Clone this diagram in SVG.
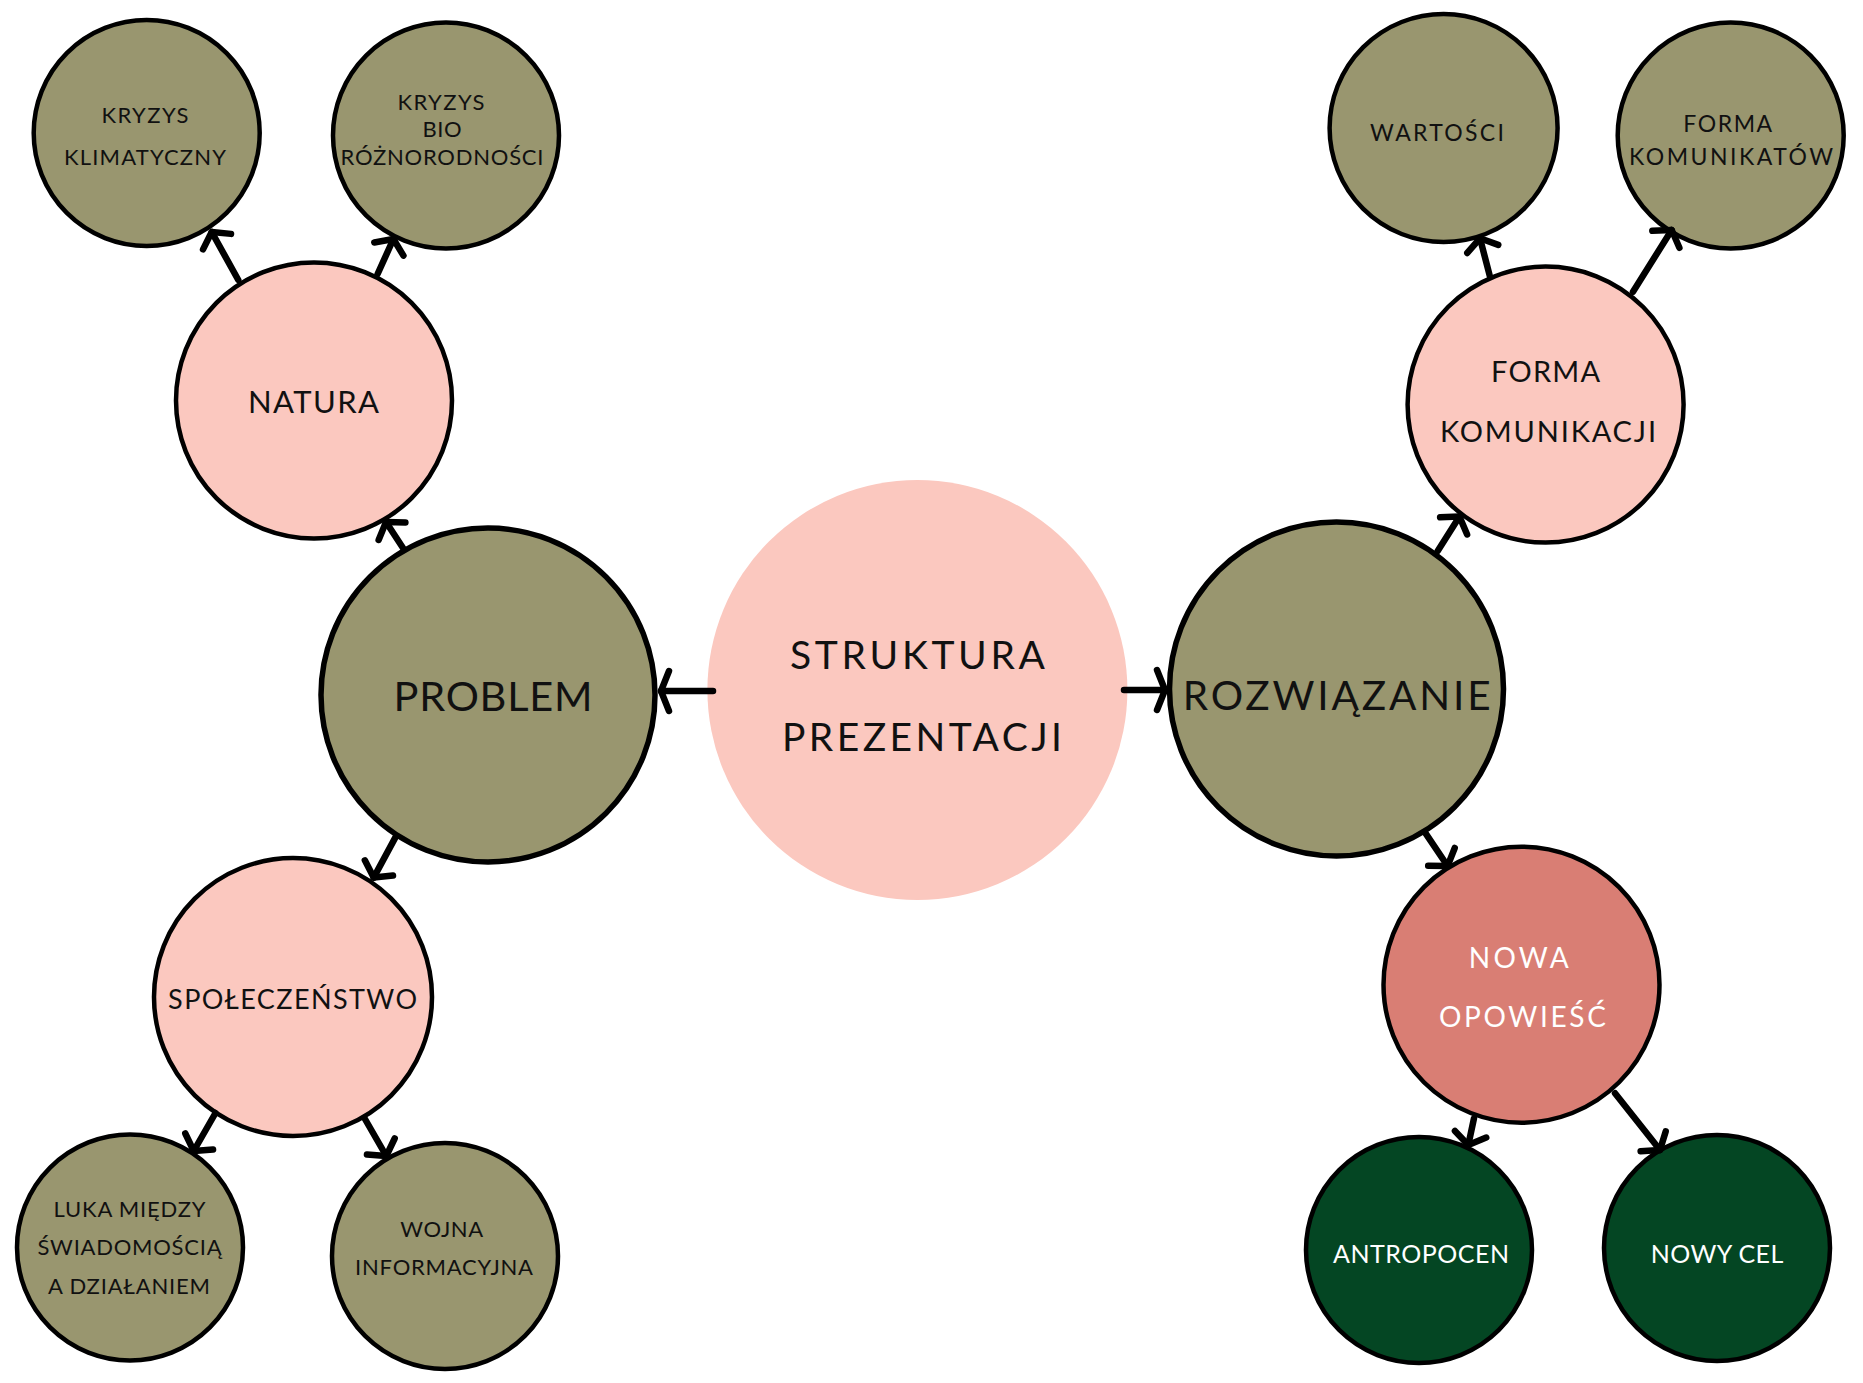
<svg xmlns="http://www.w3.org/2000/svg" width="1863" height="1383" viewBox="0 0 1863 1383">
<style>
.n{stroke:#000;stroke-width:4.5}
.big{stroke:#000;stroke-width:5.5}
.olive{fill:#99966F}
.pink{fill:#FBC8BF}
.coral{fill:#D97E74}
.dark{fill:#044623}
text{font-family:Lato,"Open Sans","Liberation Sans",sans-serif;text-anchor:middle;fill:#111}
.w{fill:#fff}
.s{font-size:22px}
.m{font-size:29px}
.l{font-size:40px}
.e{stroke:#000;stroke-width:6.5;stroke-linecap:round;fill:none;marker-end:url(#ah)}
.e2{stroke:#000;stroke-width:6.5;stroke-linecap:round;fill:none;marker-end:url(#ah2)}
</style>
<defs>
<marker id="ah" markerUnits="userSpaceOnUse" markerWidth="40" markerHeight="40" viewBox="-20 -20 40 40" refX="0" refY="0" orient="auto" overflow="visible"><path d="M-11,-16 L0,0 L-11,16" fill="none" stroke="#000" stroke-width="6.5" stroke-linecap="round" stroke-linejoin="round"/></marker>
<marker id="ah2" markerUnits="userSpaceOnUse" markerWidth="40" markerHeight="50" viewBox="-20 -25 40 50" refX="0" refY="0" orient="auto" overflow="visible"><path d="M-8,-20 L0,0 L-8,20" fill="none" stroke="#000" stroke-width="6.5" stroke-linecap="round" stroke-linejoin="round"/></marker>
</defs>
<rect width="1863" height="1383" fill="#fff"/>

<g id="kryzys-klimatyczny"><circle class="n olive" cx="146.7" cy="133" r="113"/><text class="s" x="145" y="122.5" textLength="87" lengthAdjust="spacing">KRYZYS</text><text class="s" x="145" y="165" textLength="162" lengthAdjust="spacing">KLIMATYCZNY</text></g>
<g id="kryzys-bio"><circle class="n olive" cx="446" cy="135.5" r="113"/><text class="s" x="441" y="110" textLength="87" lengthAdjust="spacing">KRYZYS</text><text class="s" x="442" y="137" textLength="39" lengthAdjust="spacing">BIO</text><text class="s" x="442" y="165" textLength="203" lengthAdjust="spacing">RÓŻNORODNOŚCI</text></g>
<g id="natura"><circle class="n pink" cx="314" cy="400.5" r="138"/><text class="m" x="313.5" y="412.5" textLength="131" lengthAdjust="spacing" style="font-size:31px">NATURA</text></g>
<g id="problem"><circle class="big olive" cx="488" cy="695" r="167"/><text class="l" x="493" y="710.5" textLength="199" lengthAdjust="spacing" style="font-size:41.5px">PROBLEM</text></g>
<g id="spoleczenstwo"><circle class="n pink" cx="293" cy="997" r="139"/><text class="m" x="292.6" y="1009" textLength="249" lengthAdjust="spacing" style="font-size:27px">SPOŁECZEŃSTWO</text></g>
<g id="luka"><circle class="n olive" cx="130" cy="1247.5" r="113"/><text class="s" x="129.5" y="1217" textLength="152" lengthAdjust="spacing">LUKA MIĘDZY</text><text class="s" x="129.5" y="1254.5" textLength="184" lengthAdjust="spacing">ŚWIADOMOŚCIĄ</text><text class="s" x="129" y="1294" textLength="162" lengthAdjust="spacing">A DZIAŁANIEM</text></g>
<g id="wojna"><circle class="n olive" cx="445" cy="1256" r="113"/><text class="s" x="441.7" y="1237" textLength="83" lengthAdjust="spacing">WOJNA</text><text class="s" x="444" y="1275" textLength="178" lengthAdjust="spacing">INFORMACYJNA</text></g>
<g id="struktura"><circle class="pink" cx="917.4" cy="690" r="210"/><text x="917.5" y="669" textLength="255" lengthAdjust="spacing" style="font-size:39px">STRUKTURA</text><text x="922" y="751" textLength="280" lengthAdjust="spacing" style="font-size:39px">PREZENTACJI</text></g>
<g id="rozwiazanie"><circle class="big olive" cx="1336.5" cy="689" r="167"/><text x="1336.7" y="710" textLength="308" lengthAdjust="spacing" style="font-size:40.5px">ROZWIĄZANIE</text></g>
<g id="forma-komunikacji"><circle class="n pink" cx="1545.6" cy="404.6" r="138"/><text class="m" x="1545.6" y="382" textLength="109" lengthAdjust="spacing">FORMA</text><text class="m" x="1548" y="442" textLength="216" lengthAdjust="spacing">KOMUNIKACJI</text></g>
<g id="wartosci"><circle class="n olive" cx="1443.6" cy="128" r="114"/><text class="s" x="1437" y="141" textLength="134" lengthAdjust="spacing" style="font-size:23px">WARTOŚCI</text></g>
<g id="forma-komunikatow"><circle class="n olive" cx="1730.7" cy="135.5" r="113"/><text class="s" x="1727.7" y="132.4" textLength="89" lengthAdjust="spacing" style="font-size:23px">FORMA</text><text class="s" x="1731" y="164.6" textLength="204" lengthAdjust="spacing" style="font-size:23px">KOMUNIKATÓW</text></g>
<g id="nowa-opowiesc"><circle class="n coral" cx="1521.5" cy="984.7" r="138"/><text class="m w" x="1518.8" y="967.5" textLength="100" lengthAdjust="spacing" style="font-size:28px">NOWA</text><text class="m w" x="1522.4" y="1027" textLength="167" lengthAdjust="spacing" style="font-size:28px">OPOWIEŚĆ</text></g>
<g id="antropocen"><circle class="n dark" cx="1419" cy="1250" r="113"/><text class="s w" x="1421" y="1263" textLength="176" lengthAdjust="spacing" style="font-size:25px">ANTROPOCEN</text></g>
<g id="nowy-cel"><circle class="n dark" cx="1717" cy="1248" r="113"/><text class="s w" x="1717" y="1263" textLength="132.5" lengthAdjust="spacing" style="font-size:25px">NOWY CEL</text></g>

<g id="connectors">
<path class="e2" d="M713,691 L661,691"/>
<path class="e2" d="M1124,690 L1165,690"/>
<path class="e" d="M403,548 L386,522"/>
<path class="e" d="M238.3,280 L211.7,232"/>
<path class="e" d="M377.6,274 L393.4,239"/>
<path class="e" d="M395.4,837.4 L373.7,877.6"/>
<path class="e" d="M215.5,1113 L193.7,1151"/>
<path class="e" d="M364.4,1118 L386.3,1156"/>
<path class="e" d="M1437.7,551 L1459.5,516.6"/>
<path class="e" d="M1490,276.7 L1480,238.3"/>
<path class="e" d="M1633,291.7 L1671.7,230"/>
<path class="e" d="M1425.8,833.6 L1447.6,866"/>
<path class="e" d="M1474,1118.3 L1468.3,1145"/>
<path class="e" d="M1615,1093.3 L1660,1150"/>
</g>
</svg>
